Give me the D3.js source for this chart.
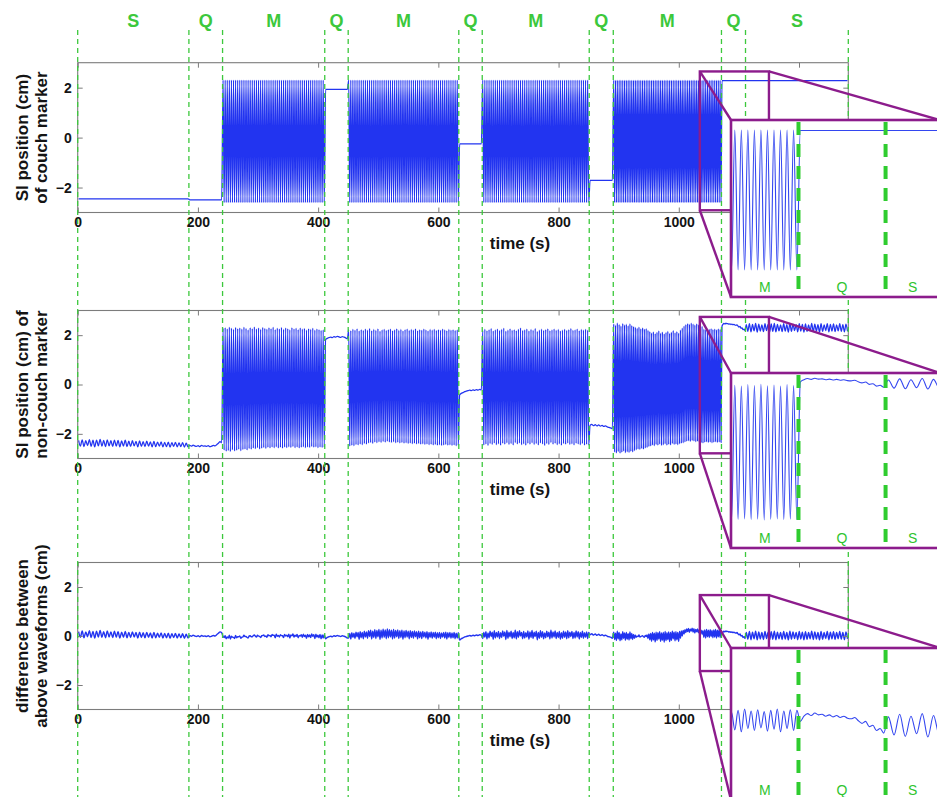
<!DOCTYPE html>
<html>
<head>
<meta charset="utf-8">
<script src="https://cdn.jsdelivr.net/npm/d3@7"></script>
<style>
  html, body { margin: 0; padding: 0; background: #ffffff; }
  svg { display: block; font-family: "Liberation Sans", Arial, Helvetica, sans-serif; }
</style>
</head>
<body>
<svg id="fig" width="937" height="797"></svg>
<script>
// ---------------------------------------------------------------
// Protocol phases: S = still breathing, Q = quiet, M = couch motion
// ---------------------------------------------------------------
const phaseBounds = [0, 185, 241, 411, 450, 634, 673, 851, 891, 1071, 1111, 1282];
const phaseNames  = ["S", "Q", "M", "Q", "M", "Q", "M", "Q", "M", "Q", "S"];

const xTickValues = [0, 200, 400, 600, 800, 1000, 1200];
const yTickValues = [-2, 0, 2];
const xAxisTitle  = "time (s)";
const panelTitles = [
  ["SI position (cm)", "of couch marker"],
  ["SI position (cm) of", "non-couch marker"],
  ["difference between", "above waveforms (cm)"]
];

// Couch marker: constant level during S/Q phases (null = motion phase)
const couchLevels = [-2.45, -2.49, null, 1.93, null, -0.25, null, -1.71, null, 2.28, 2.28];

// Couch marker turning points (peak, trough, ...) during motion phases
const couchM1 = [
  2.3,-2.6,2.3,-2.6,2.3,-2.6,2.3,-2.6,2.3,-2.6,2.3,-2.6,2.3,-2.6,2.3,-2.6,2.3,-2.6,2.3,-2.6,
  2.3,-2.6,2.3,-2.6,2.3,-2.6,2.3,-2.6,2.3,-2.6,2.3,-2.6,2.3,-2.6,2.3,-2.6,2.3,-2.6,2.3,-2.6,
  2.3,-2.6,2.3,-2.6,2.3,-2.6,2.3,-2.6,2.3,-2.6,2.3,-2.6,2.3,-2.6,2.3,-2.6,2.3,-2.6,2.3,-2.6,
  2.3,-2.6,2.3,-2.6,2.3,-2.6,2.3,-2.6,2.3,-2.6,2.3,-2.6,2.3,-2.6,2.3,-2.6,2.3,-2.6,2.3,-2.6,
  2.3,-2.6,2.3,-2.6,2.3,-2.6,2.3,-2.6,2.3,-2.6,2.3,-2.6,2.3,-2.6,2.3,-2.6,2.3,-2.6
];
const couchM2 = [
  2.3,-2.6,2.3,-2.6,2.3,-2.6,2.3,-2.6,2.3,-2.6,2.3,-2.6,2.3,-2.6,2.3,-2.6,2.3,-2.6,2.3,-2.6,
  2.3,-2.6,2.3,-2.6,2.3,-2.6,2.3,-2.6,2.3,-2.6,2.3,-2.6,2.3,-2.6,2.3,-2.6,2.3,-2.6,2.3,-2.6,
  2.3,-2.6,2.3,-2.6,2.3,-2.6,2.3,-2.6,2.3,-2.6,2.3,-2.6,2.3,-2.6,2.3,-2.6,2.3,-2.6,2.3,-2.6,
  2.3,-2.6,2.3,-2.6,2.3,-2.6,2.3,-2.6,2.3,-2.6,2.3,-2.6,2.3,-2.6,2.3,-2.6,2.3,-2.6,2.3,-2.6,
  2.3,-2.6,2.3,-2.6,2.3,-2.6,2.3,-2.6,2.3,-2.6,2.3,-2.6,2.3,-2.6,2.3,-2.6,2.3,-2.6,2.3,-2.6,
  2.3,-2.6,2.3,-2.6,2.3,-2.6
];
const couchM3 = [
  2.3,-2.6,2.3,-2.6,2.3,-2.6,2.3,-2.6,2.3,-2.6,2.3,-2.6,2.3,-2.6,2.3,-2.6,2.3,-2.6,2.3,-2.6,
  2.3,-2.6,2.3,-2.6,2.3,-2.6,2.3,-2.6,2.3,-2.6,2.3,-2.6,2.3,-2.6,2.3,-2.6,2.3,-2.6,2.3,-2.6,
  2.3,-2.6,2.3,-2.6,2.3,-2.6,2.3,-2.6,2.3,-2.6,2.3,-2.6,2.3,-2.6,2.3,-2.6,2.3,-2.6,2.3,-2.6,
  2.3,-2.6,2.3,-2.6,2.3,-2.6,2.3,-2.6,2.3,-2.6,2.3,-2.6,2.3,-2.6,2.3,-2.6,2.3,-2.6,2.3,-2.6,
  2.3,-2.6,2.3,-2.6,2.3,-2.6,2.3,-2.6,2.3,-2.6,2.3,-2.6,2.3,-2.6,2.3,-2.6,2.3,-2.6,2.3,-2.6,
  2.3,-2.6
];
const couchM4 = [
  2.3,-2.6,2.3,-2.6,2.3,-2.6,2.3,-2.6,2.3,-2.6,2.3,-2.6,2.3,-2.6,2.3,-2.6,2.3,-2.6,2.3,-2.6,
  2.3,-2.6,2.3,-2.6,2.3,-2.6,2.3,-2.6,2.3,-2.6,2.3,-2.6,2.3,-2.6,2.3,-2.6,2.3,-2.6,2.3,-2.6,
  2.3,-2.6,2.3,-2.6,2.3,-2.6,2.3,-2.6,2.3,-2.6,2.3,-2.6,2.3,-2.6,2.3,-2.6,2.3,-2.6,2.3,-2.6,
  2.3,-2.6,2.3,-2.6,2.3,-2.6,2.3,-2.6,2.3,-2.6,2.3,-2.6,2.3,-2.6,2.3,-2.6,2.3,-2.6,2.3,-2.6,
  2.3,-2.6,2.3,-2.6,2.3,-2.6,2.3,-2.6,2.3,-2.6,2.3,-2.6,2.3,-2.6,2.3,-2.6,2.3,-2.6,2.3,-2.6,
  2.3,-2.6,2.3,-2.6,2.3,-2.6,2.3,-2.6,2.3,-2.6,2.3,-2.6,2.3,-2.6,2.3,-2.6,2.3,-2.6,2.3,-2.6
];

// Non-couch marker samples per phase
const markerS1 = [
  -2.27,-2.5,-2.24,-2.52,-2.28,-2.48,-2.23,-2.51,-2.26,-2.53,-2.25,-2.49,-2.22,-2.5,-2.27,-2.52,-2.24,-2.49,-2.28,-2.51,
  -2.25,-2.5,-2.27,-2.53,-2.29,-2.5,-2.26,-2.52,-2.3,-2.51,-2.28,-2.49,-2.31,-2.53,-2.29,-2.51,-2.32,-2.52,-2.3,-2.5,
  -2.33,-2.53,-2.31,-2.52,-2.34,-2.5,-2.33,-2.53,-2.35,-2.52,-2.34,-2.54,-2.36,-2.51,-2.35,-2.53,-2.37,-2.52,-2.36,-2.54,
  -2.38,-2.53
];
const markerQ1 = [-2.47,-2.5,-2.46,-2.49,-2.51,-2.48,-2.52,-2.47,-2.5,-2.49,-2.51,-2.48,-2.52,-2.5,-2.47,-2.49,-2.44,-2.38,-2.32,-2.36];
const markerM1 = [
  2.28,-2.66,2.31,-2.71,2.26,-2.68,2.33,-2.72,2.29,-2.65,2.24,-2.7,2.32,-2.67,2.27,-2.63,2.3,-2.69,2.25,-2.64,
  2.33,-2.62,2.28,-2.66,2.22,-2.6,2.31,-2.63,2.27,-2.58,2.34,-2.61,2.26,-2.57,2.3,-2.62,2.24,-2.59,2.32,-2.56,
  2.28,-2.6,2.25,-2.55,2.31,-2.58,2.27,-2.54,2.33,-2.57,2.23,-2.53,2.29,-2.58,2.26,-2.55,2.32,-2.59,2.24,-2.54,
  2.3,-2.57,2.27,-2.53,2.22,-2.56,2.31,-2.52,2.26,-2.57,2.29,-2.54,2.23,-2.58,2.3,-2.55,2.25,-2.53,2.28,-2.57,
  2.21,-2.54,2.27,-2.56,2.24,-2.52,2.29,-2.55,2.2,-2.53,2.26,-2.57,2.23,-2.54,2.19,-2.56,2.22,-2.55
];
const markerQ2 = [1.82,1.87,1.9,1.92,1.9,1.94,1.92,1.95,1.93,1.91,1.94,1.92,1.89,1.85];
const markerM2 = [
  2.22,-2.5,2.18,-2.47,2.25,-2.49,2.2,-2.44,2.27,-2.46,2.17,-2.42,2.23,-2.45,2.19,-2.4,2.26,-2.43,2.21,-2.38,
  2.28,-2.36,2.18,-2.4,2.24,-2.34,2.2,-2.37,2.27,-2.33,2.16,-2.36,2.22,-2.32,2.25,-2.35,2.19,-2.31,2.23,-2.34,
  2.26,-2.36,2.18,-2.33,2.22,-2.37,2.27,-2.35,2.2,-2.38,2.24,-2.36,2.17,-2.39,2.23,-2.37,2.26,-2.4,2.19,-2.38,
  2.24,-2.41,2.21,-2.39,2.27,-2.42,2.18,-2.4,2.23,-2.43,2.2,-2.41,2.26,-2.44,2.22,-2.42,2.17,-2.45,2.24,-2.43,
  2.21,-2.46,2.25,-2.44,2.19,-2.47,2.23,-2.45,2.2,-2.48,2.26,-2.46,2.22,-2.44,2.18,-2.47,2.24,-2.45,2.21,-2.48,
  2.23,-2.46,2.19,-2.49,2.22,-2.47
];
const markerQ3 = [-0.42,-0.36,-0.33,-0.29,-0.27,-0.25,-0.23,-0.25,-0.22,-0.24,-0.21,-0.23,-0.2,-0.22];
const markerM3 = [
  2.2,-2.46,2.25,-2.42,2.18,-2.48,2.23,-2.4,2.28,-2.44,2.17,-2.38,2.22,-2.45,2.26,-2.41,2.19,-2.47,2.24,-2.39,
  2.29,-2.43,2.16,-2.37,2.21,-2.44,2.27,-2.4,2.2,-2.46,2.23,-2.36,2.18,-2.42,2.25,-2.38,2.3,-2.45,2.19,-2.41,
  2.22,-2.47,2.26,-2.39,2.17,-2.43,2.24,-2.37,2.2,-2.44,2.28,-2.4,2.15,-2.46,2.21,-2.38,2.25,-2.42,2.19,-2.48,
  2.23,-2.4,2.27,-2.44,2.18,-2.36,2.22,-2.43,2.26,-2.39,2.2,-2.45,2.24,-2.41,2.17,-2.47,2.21,-2.4,2.25,-2.43,
  2.19,-2.38,2.23,-2.44,2.28,-2.41,2.2,-2.46,2.22,-2.39,2.26,-2.42,2.18,-2.45,2.24,-2.4,2.21,-2.47,2.25,-2.43,
  2.2,-2.45
];
const markerQ4 = [-1.66,-1.62,-1.67,-1.63,-1.68,-1.64,-1.69,-1.66,-1.7,-1.68,-1.72,-1.74,-1.76,-1.8];
const markerM4 = [
  2.46,-2.74,2.41,-2.78,2.5,-2.72,2.44,-2.79,2.38,-2.75,2.48,-2.7,2.42,-2.77,2.45,-2.73,2.39,-2.76,2.47,-2.71,
  2.4,-2.74,2.36,-2.69,2.33,-2.65,2.29,-2.62,2.34,-2.64,2.27,-2.6,2.31,-2.63,2.25,-2.58,2.28,-2.56,2.2,-2.52,
  2.15,-2.5,2.09,-2.46,2.14,-2.49,2.06,-2.44,2.12,-2.47,2.18,-2.42,2.08,-2.48,2.13,-2.45,2.05,-2.41,2.11,-2.47,
  2.16,-2.43,2.07,-2.46,2.12,-2.4,2.19,-2.44,2.1,-2.42,2.15,-2.45,2.08,-2.41,2.21,-2.39,2.3,-2.37,2.38,-2.34,
  2.44,-2.31,2.48,-2.29,2.45,-2.32,2.5,-2.28,2.46,-2.3,2.42,-2.33,2.47,-2.31,2.43,-2.34,2.4,-2.36,2.37,-2.38,
  2.25,-2.35,2.22,-2.33,2.27,-2.36,2.24,-2.34,2.28,-2.37,2.23,-2.35,2.26,-2.33,2.22,-2.36,2.27,-2.34,2.24,-2.35
];
const markerQ5 = [2.36,2.44,2.48,2.45,2.49,2.46,2.47,2.44,2.46,2.43,2.45,2.42,2.44,2.41,2.4,2.42,2.37,2.33,2.36,2.28,2.3,2.22,2.25,2.18];
const markerS2 = [
  2.43,2.15,2.47,2.13,2.44,2.17,2.48,2.12,2.45,2.16,2.42,2.14,2.47,2.18,2.44,2.12,2.46,2.15,2.48,2.13,
  2.44,2.17,2.42,2.14,2.47,2.16,2.43,2.12,2.48,2.15,2.45,2.18,2.43,2.13,2.47,2.16,2.44,2.12,2.46,2.15,
  2.42,2.17,2.48,2.14,2.45,2.16,2.43,2.12,2.47,2.15,2.42,2.18,2.47,2.13,2.44,2.16,2.46,2.14,2.42,2.17,
  2.47,2.15,2.43,2.13,2.45,2.16
];

// Zoomed window (time span and per-panel value span outlined on each panel)
const zoomWindow  = [1035, 1150];
const zoomWindowY = [[-2.91, 2.65], [-2.79, 2.74], [-1.43, 1.67]];
const insetTimes  = [1040, 1136];
const insetYDomains = [[-3.545, 2.65], [-3.33, 2.67], [-1.13, 1.21]];

// ---------------------------------------------------------------
// Build the time-aligned sample table
// ---------------------------------------------------------------
const couchPhases  = [null, null, couchM1, null, couchM2, null, couchM3, null, couchM4, null, null];
const markerPhases = [markerS1, markerQ1, markerM1, markerQ2, markerM2, markerQ3, markerM3, markerQ4, markerM4, markerQ5, markerS2];

const samples = [];
markerPhases.forEach((vals, k) => {
  const t0 = phaseBounds[k], t1 = phaseBounds[k + 1], n = vals.length;
  vals.forEach((v, i) => {
    const t = t0 + (i + 0.5) * (t1 - t0) / n;
    const cArr = couchPhases[k];
    const c = cArr ? cArr[Math.min(i, cArr.length - 1)] : couchLevels[k];
    samples.push({ t, couch: c, marker: v, diff: v - c });
  });
});

// ---------------------------------------------------------------
// Layout
// ---------------------------------------------------------------
const svg = d3.select("#fig");
const FONT = '"Liberation Sans", Arial, Helvetica, sans-serif';
const LINE_BLUE = "#2234f0";
const GREEN = "#3cc83c";
const PURPLE = "#8c1c8c";
const FRAME = "#7c7c7c";

const x = d3.scaleLinear().domain([0, 1282]).range([77.7, 848.3]);
const panels = [
  { key: "couch",  top: 62.7,  bottom: 212.5, width: 1.25 },
  { key: "marker", top: 310.5, bottom: 458.5, width: 1.25 },
  { key: "diff",   top: 562.5, bottom: 709.5, width: 1.4 }
];
const insetBoxes = [
  { x0: 731, x1: 940, y0: 120, y1: 297 },
  { x0: 731, x1: 940, y0: 373, y1: 548 },
  { x0: 731, x1: 940, y0: 648, y1: 800 }
];

const defs = svg.append("defs");
svg.append("rect").attr("width", 937).attr("height", 797).attr("fill", "#ffffff");

const x0 = x.range()[0], x1 = x.range()[1];
const fmtX = d3.format("d");

panels.forEach((p, i) => {
  const y = d3.scaleLinear().domain([-3, 3]).range([p.bottom, p.top]);
  p.y = y;
  const g = svg.append("g").attr("class", "panel");

  defs.append("clipPath").attr("id", "clip" + i)
    .append("rect").attr("x", x0).attr("y", p.top).attr("width", x1 - x0).attr("height", p.bottom - p.top);

  const line = d3.line().x(d => x(d.t)).y(d => y(d[p.key])).curve(d3.curveMonotoneX);
  g.append("path")
    .datum(samples)
    .attr("clip-path", `url(#clip${i})`)
    .attr("d", line)
    .attr("fill", "none")
    .attr("stroke", LINE_BLUE)
    .attr("stroke-width", p.width)
    .attr("stroke-linejoin", "round");

  // axes with inward ticks on all four sides
  const axB = g.append("g").attr("transform", `translate(0,${p.bottom})`)
    .call(d3.axisBottom(x).tickValues(xTickValues).tickSizeInner(-5).tickSizeOuter(0).tickPadding(5).tickFormat(fmtX));
  const axT = g.append("g").attr("transform", `translate(0,${p.top})`)
    .call(d3.axisTop(x).tickValues(xTickValues).tickSizeInner(-5).tickSizeOuter(0).tickFormat(""));
  const axL = g.append("g").attr("transform", `translate(${x0},0)`)
    .call(d3.axisLeft(y).tickValues(yTickValues).tickSizeInner(-5).tickSizeOuter(0).tickPadding(6)
      .tickFormat(d => d < 0 ? "\u2212" + Math.abs(d) : String(d)));
  const axR = g.append("g").attr("transform", `translate(${x1},0)`)
    .call(d3.axisRight(y).tickValues(yTickValues).tickSizeInner(-5).tickSizeOuter(0).tickFormat(""));

  [axB, axT, axL, axR].forEach(a => {
    a.select(".domain").remove();
    a.selectAll(".tick line").attr("stroke", FRAME).attr("stroke-width", 1);
    a.selectAll("text")
      .attr("font-family", FONT).attr("font-size", 14).attr("font-weight", "bold").attr("fill", "#141414");
  });

  g.append("rect")
    .attr("x", x0).attr("y", p.top).attr("width", x1 - x0).attr("height", p.bottom - p.top)
    .attr("fill", "none").attr("stroke", FRAME).attr("stroke-width", 1.1);

  g.append("text")
    .attr("x", 520).attr("y", p.bottom + 36.5)
    .attr("text-anchor", "middle")
    .attr("font-family", FONT).attr("font-size", 17).attr("font-weight", "bold").attr("fill", "#141414")
    .text(xAxisTitle);

  const cy = (p.top + p.bottom) / 2;
  const tl = [22, 41];
  panelTitles[i].forEach((s, j) => {
    g.append("text")
      .attr("transform", `translate(${tl[j]},${cy}) rotate(-90)`)
      .attr("text-anchor", "middle").attr("dy", "0.36em")
      .attr("font-family", FONT).attr("font-size", 17).attr("font-weight", "bold").attr("fill", "#141414")
      .text(s);
  });
});

// phase boundaries across the full figure
svg.append("g").selectAll("line").data(phaseBounds).join("line")
  .attr("x1", d => x(d)).attr("x2", d => x(d))
  .attr("y1", 30).attr("y2", 797)
  .attr("stroke", GREEN).attr("stroke-width", 1.3).attr("stroke-dasharray", "5,4");

// phase labels
svg.append("g").selectAll("text").data(phaseNames).join("text")
  .attr("x", (d, k) => x((phaseBounds[k] + phaseBounds[k + 1]) / 2))
  .attr("y", 27)
  .attr("text-anchor", "middle")
  .attr("font-family", FONT).attr("font-size", 18).attr("font-weight", "bold").attr("fill", GREEN)
  .text(d => d);

// zoom outlines, connectors and magnified insets
panels.forEach((p, i) => {
  const b = insetBoxes[i];
  const sx0 = x(zoomWindow[0]), sx1 = x(zoomWindow[1]);
  const sy0 = p.y(zoomWindowY[i][1]), sy1 = p.y(zoomWindowY[i][0]);
  const g = svg.append("g").attr("class", "zoom");

  g.append("rect").attr("x", sx0).attr("y", sy0).attr("width", sx1 - sx0).attr("height", sy1 - sy0)
    .attr("fill", "none").attr("stroke", PURPLE).attr("stroke-width", 2.4);
  const conns = [[sx0, sy0, b.x0, b.y0], [sx0, sy1, b.x0, b.y1], [sx1, sy0, b.x1, b.y0]];
  g.selectAll("line.conn").data(conns).join("line").attr("class", "conn")
    .attr("x1", d => d[0]).attr("y1", d => d[1]).attr("x2", d => d[2]).attr("y2", d => d[3])
    .attr("stroke", PURPLE).attr("stroke-width", 2.4);

  const xi = d3.scaleLinear().domain(insetTimes).range([b.x0, b.x1]);
  const yi = d3.scaleLinear().domain(insetYDomains[i]).range([b.y1, b.y0]);

  g.append("rect").attr("x", b.x0).attr("y", b.y0).attr("width", b.x1 - b.x0).attr("height", b.y1 - b.y0)
    .attr("fill", "#ffffff");

  defs.append("clipPath").attr("id", "iclip" + i)
    .append("rect").attr("x", b.x0).attr("y", b.y0).attr("width", b.x1 - b.x0).attr("height", b.y1 - b.y0);

  const seg = samples.filter(d => d.t > insetTimes[0] - 6 && d.t < insetTimes[1] + 6);
  const line = d3.line().x(d => xi(d.t)).y(d => yi(d[p.key])).curve(d3.curveMonotoneX);
  g.append("path").datum(seg)
    .attr("clip-path", `url(#iclip${i})`)
    .attr("d", line).attr("fill", "none")
    .attr("stroke", "#3346f0").attr("stroke-width", 1.1);

  const inner = phaseBounds.filter(t => t > insetTimes[0] && t < insetTimes[1]);
  g.selectAll("line.pb").data(inner).join("line").attr("class", "pb")
    .attr("x1", d => xi(d)).attr("x2", d => xi(d)).attr("y1", b.y0 + 2).attr("y2", b.y1)
    .attr("stroke", "#2fcc2f").attr("stroke-width", 4).attr("stroke-dasharray", "13,9");

  const labs = [];
  phaseNames.forEach((n, k) => {
    const a = Math.max(phaseBounds[k], insetTimes[0]), c = Math.min(phaseBounds[k + 1], insetTimes[1]);
    if (c > a) labs.push({ n, t: (a + c) / 2 });
  });
  g.selectAll("text").data(labs).join("text")
    .attr("x", d => xi(d.t)).attr("y", b.y1 - 5)
    .attr("text-anchor", "middle")
    .attr("font-family", FONT).attr("font-size", 14).attr("fill", "#2fc42f")
    .text(d => d.n);

  g.append("rect").attr("x", b.x0).attr("y", b.y0).attr("width", b.x1 - b.x0).attr("height", b.y1 - b.y0)
    .attr("fill", "none").attr("stroke", PURPLE).attr("stroke-width", 2.6);
});
</script>
</body>
</html>
